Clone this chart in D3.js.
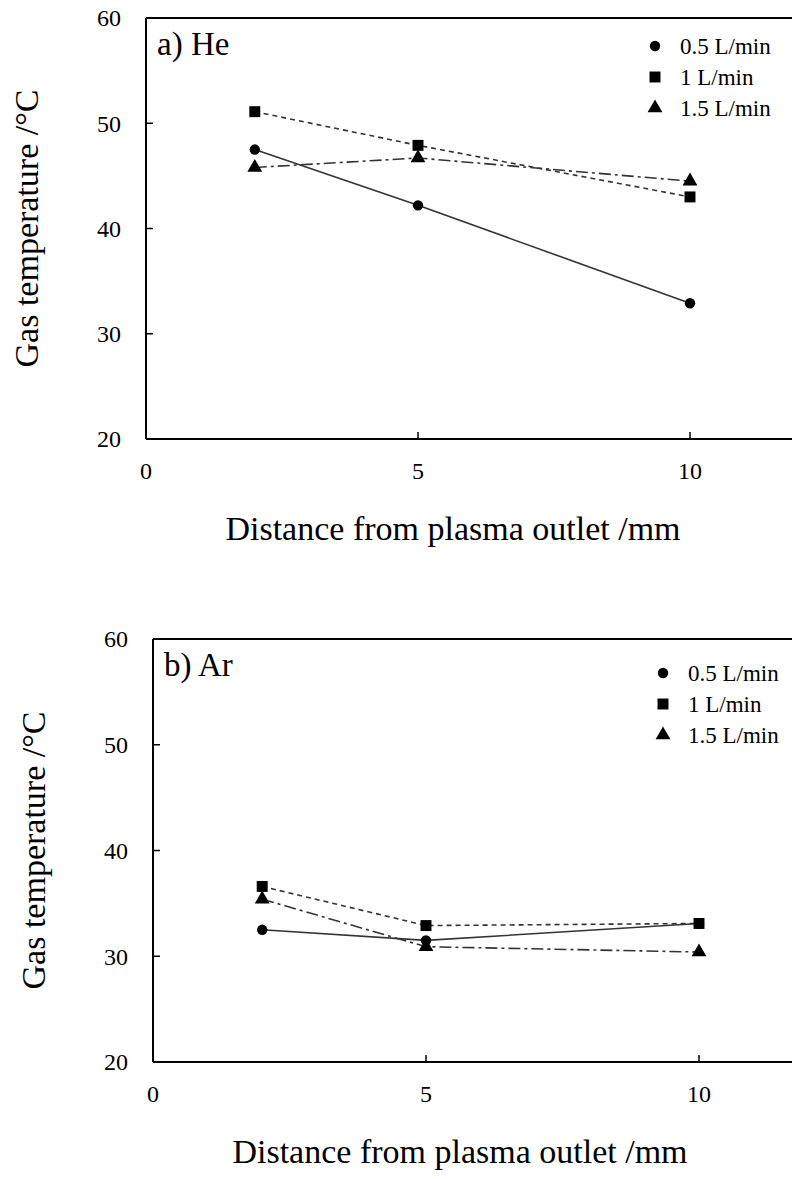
<!DOCTYPE html>
<html>
<head>
<meta charset="utf-8">
<script src="https://cdn.jsdelivr.net/npm/d3@7"></script>
<style>
  body { margin: 0; background: #fff; }
  svg { display: block; }
</style>
</head>
<body>
<div id="chart"></div>
<script>
// distances (mm)
const distances = [2, 5, 10];
const seriesNames = ["0.5 L/min", "1 L/min", "1.5 L/min"];

// panel a) He
const he05 = [47.5, 42.2, 32.9];
const he10 = [51.1, 47.9, 43.0];
const he15 = [45.8, 46.7, 44.5];

// panel b) Ar
const ar05 = [32.5, 31.5, 33.1];
const ar10 = [36.6, 32.9, 33.1];
const ar15 = [35.4, 30.9, 30.4];

const xTicks = [0, 5, 10];
const yTicks = [20, 30, 40, 50, 60];

const FONT = "'Liberation Serif', 'DejaVu Serif', serif";

const W = 792, H = 1179;
const svg = d3.select("#chart").append("svg")
    .attr("width", W).attr("height", H)
    .attr("font-family", FONT);

const styles = [
    {symbol: d3.symbolCircle, size: 85, dash: null},
    {symbol: d3.symbolSquare, size: 120, dash: "5,4"},
    {symbol: d3.symbolTriangle, size: 95, dash: "12,4,3,4"}
];

function drawPanel(opts) {
    let g = svg.append("g");

    let x = d3.scaleLinear().domain([0, 12]).range([opts.left, opts.left + 12 * opts.xUnit]);
    let y = d3.scaleLinear().domain([20, 60]).range([opts.bottom, opts.top]);

    // frame: left, bottom, top
    g.append("line")
        .attr("x1", opts.left).attr("x2", opts.left)
        .attr("y1", opts.top).attr("y2", opts.bottom)
        .attr("stroke", "#000").attr("stroke-width", 2);
    g.append("line")
        .attr("x1", opts.left).attr("x2", W)
        .attr("y1", opts.bottom).attr("y2", opts.bottom)
        .attr("stroke", "#000").attr("stroke-width", 2);
    g.append("line")
        .attr("x1", opts.left).attr("x2", W)
        .attr("y1", opts.top).attr("y2", opts.top)
        .attr("stroke", "#000").attr("stroke-width", 2);

    // inward ticks
    g.selectAll(".ytick").data(yTicks.slice(1, -1)).enter().append("line")
        .attr("x1", opts.left).attr("x2", opts.left + 7)
        .attr("y1", d => y(d)).attr("y2", d => y(d))
        .attr("stroke", "#000").attr("stroke-width", 1.5);
    g.selectAll(".xtick").data(xTicks.slice(1)).enter().append("line")
        .attr("x1", d => x(d)).attr("x2", d => x(d))
        .attr("y1", opts.bottom).attr("y2", opts.bottom - 7)
        .attr("stroke", "#000").attr("stroke-width", 1.5);

    // tick labels
    g.selectAll(".ylab").data(yTicks).enter().append("text")
        .attr("x", opts.left - 25).attr("y", d => y(d))
        .attr("dy", "0.35em").attr("text-anchor", "end")
        .attr("font-size", 24).text(d => d);
    g.selectAll(".xlab").data(xTicks).enter().append("text")
        .attr("x", d => x(d)).attr("y", opts.bottom + 40)
        .attr("text-anchor", "middle")
        .attr("font-size", 24).text(d => d);

    // axis titles
    g.append("text")
        .attr("transform", `translate(${opts.left - 120},${(opts.top + opts.bottom) / 2}) rotate(-90)`)
        .attr("dy", "0.35em")
        .attr("text-anchor", "middle").attr("font-size", 34)
        .text("Gas temperature /°C");
    g.append("text")
        .attr("x", opts.left + 307).attr("y", opts.bottom + 101)
        .attr("text-anchor", "middle").attr("font-size", 34)
        .text("Distance from plasma outlet /mm");

    // panel label
    g.append("text")
        .attr("x", opts.left + 11).attr("y", opts.top + 37)
        .attr("font-size", 33).text(opts.label);

    // series
    let line = d3.line().x(d => x(d[0])).y(d => y(d[1]));
    opts.series.forEach((vals, i) => {
        let pts = distances.map((d, j) => [d, vals[j]]);
        g.append("path").datum(pts)
            .attr("d", line)
            .attr("fill", "none")
            .attr("stroke", "#333")
            .attr("stroke-width", 1.6)
            .attr("stroke-dasharray", styles[i].dash);
    });
    opts.series.forEach((vals, i) => {
        let sym = d3.symbol().type(styles[i].symbol).size(styles[i].size);
        g.selectAll(".m" + i).data(distances.map((d, j) => [d, vals[j]])).enter()
            .append("path")
            .attr("d", sym)
            .attr("transform", d => `translate(${x(d[0])},${y(d[1])})`)
            .attr("fill", "#000");
    });

    // legend
    seriesNames.forEach((name, i) => {
        let ly = opts.legY + i * 31;
        g.append("path")
            .attr("d", d3.symbol().type(styles[i].symbol).size(styles[i].size)())
            .attr("transform", `translate(${opts.legX},${ly})`)
            .attr("fill", "#000");
        g.append("text")
            .attr("x", opts.legX + 25).attr("y", ly)
            .attr("dy", "0.35em").attr("font-size", 23)
            .text(name);
    });
}

drawPanel({
    left: 146, top: 18, bottom: 439, xUnit: 54.4,
    label: "a) He", series: [he05, he10, he15],
    legX: 655, legY: 46
});

drawPanel({
    left: 153, top: 639, bottom: 1062, xUnit: 54.6,
    label: "b) Ar", series: [ar05, ar10, ar15],
    legX: 663, legY: 673
});
</script>
</body>
</html>
